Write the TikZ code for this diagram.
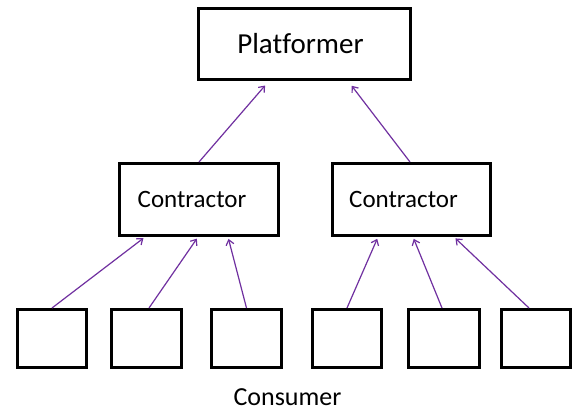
\documentclass[tikz,border=0pt]{standalone}
\usepackage{fontspec}
\setmainfont[Ligatures=NoCommon]{Carlito}
\usetikzlibrary{arrows.meta}
\definecolor{linkpurple}{RGB}{112,48,160}
\begin{document}
\begin{tikzpicture}[x=1pt,y=-1pt,
  box/.style={draw=black,line width=3pt,fill=white,inner sep=0pt,minimum height=58pt},
  link/.style={draw=linkpurple,line width=1.2pt,-{Straight Barb[length=5pt,width=8pt]}},
  ttl/.style={font=\fontsize{29}{31}\selectfont},
  lbl/.style={font=\fontsize{25}{27}\selectfont},
  foot/.style={font=\fontsize{26}{28}\selectfont,inner sep=0pt}]
\useasboundingbox[fill=white] (0,0) rectangle (573,414);

% top level
\node[box,minimum width=212pt,minimum height=71pt,
  label={[ttl,xshift=-4pt]center:Platformer}] (plat) at (304.5,44) {};

% middle level
\node[box,minimum width=159pt,minimum height=72pt,
  label={[lbl,xshift=-7pt]center:Contractor}] (conL) at (199,199.5) {};
\node[box,minimum width=158pt,minimum height=72pt,
  label={[lbl,xshift=-8pt]center:Contractor}] (conR) at (411.5,199.5) {};

% bottom level
\node[box,minimum width=69pt] (c1) at (52,338.5) {};
\node[box,minimum width=70pt] (c2) at (146.5,338.5) {};
\node[box,minimum width=70pt] (c3) at (246.5,338.5) {};
\node[box,minimum width=69pt] (c4) at (347,338.5) {};
\node[box,minimum width=71pt] (c5) at (444,338.5) {};
\node[box,minimum width=69pt] (c6) at (536,338.5) {};

\node[foot,anchor=base] (cons) at (287.5,405) {Consumer};

% connectors
\draw[link,shorten >=6pt] (conL.north) -- ([xshift=-35.5pt]plat.south);
\draw[link,shorten >=6pt] ([xshift=-1.5pt]conR.north) -- ([xshift=43.5pt]plat.south);

\draw[link,shorten >=2pt] (c1.north) -- ([xshift=-54pt]conL.south);
\draw[link,shorten >=2pt] ([xshift=2.5pt]c2.north) -- ([xshift=-1pt]conL.south);
\draw[link,shorten >=2pt] (c3.north) -- ([xshift=29pt]conL.south);

\draw[link,shorten >=2pt] (c4.north) -- ([xshift=-33.5pt]conR.south);
\draw[link,shorten >=2pt] ([xshift=-2pt]c5.north) -- ([xshift=1.5pt]conR.south);
\draw[link,shorten >=2pt] ([xshift=-7pt]c6.north) -- ([xshift=42.5pt]conR.south);
\end{tikzpicture}
\end{document}
